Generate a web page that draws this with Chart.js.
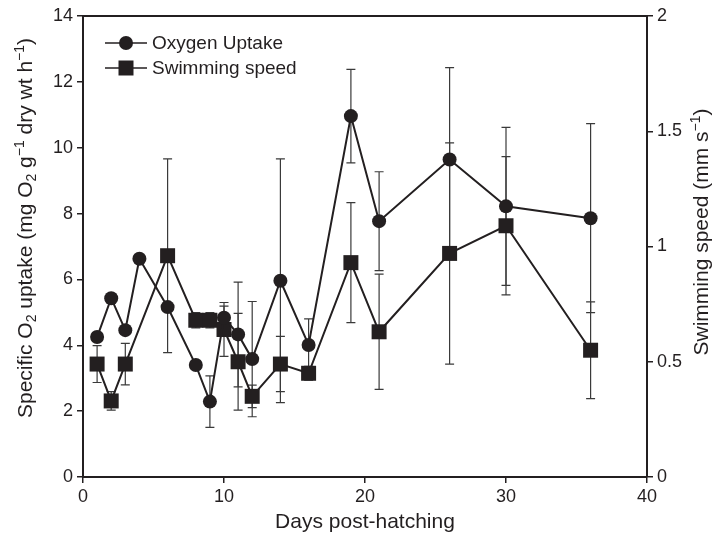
<!DOCTYPE html>
<html>
<head>
<meta charset="utf-8">
<script src="https://cdn.jsdelivr.net/npm/chart.js@4.4.0/dist/chart.umd.min.js"></script>
<style>
  html, body { margin: 0; padding: 0; background: #fff; }
</style>
</head>
<body>
<canvas id="chart" width="723" height="541"></canvas>
<script>
// values
const oxygenDays = [1, 2, 3, 4, 6, 8, 9, 10, 11, 12, 14, 16, 19, 21, 26, 30, 36];
const oxygenUptake = [4.25, 5.43, 4.46, 6.63, 5.16, 3.40, 2.29, 4.84, 4.33, 3.58, 5.96, 4.01, 10.96, 7.77, 9.64, 8.22, 7.86];
const oxygenErr = [0.1, 0.1, 0.1, 0.1, 0.1, 0.1, 0.78, 0.35, 1.59, 1.75, 3.7, 0.79, 1.42, 1.5, 2.79, 2.4, 2.87];

const swimDays = [1, 2, 3, 6, 8, 9, 10, 11, 12, 14, 16, 19, 21, 26, 30, 36];
const swimSpeed = [0.49, 0.33, 0.49, 0.96, 0.68, 0.68, 0.64, 0.50, 0.35, 0.49, 0.45, 0.93, 0.63, 0.97, 1.09, 0.55];
const swimErr = [0.08, 0.04, 0.09, 0.42, 0.033, 0.033, 0.117, 0.21, 0.049, 0.12, 0.03, 0.26, 0.25, 0.48, 0.30, 0.21];

const xTicks = [0, 10, 20, 30, 40];
const leftTicks = [0, 2, 4, 6, 8, 10, 12, 14];
const rightTicks = [0, 0.5, 1, 1.5, 2];

const ink = '#231f20';
const FONT = '"Liberation Sans", Arial, Helvetica, sans-serif';

function toPoints(xs, ys) {
  return xs.map((x, i) => ({ x: x, y: ys[i] }));
}

function setTicks(values) {
  return (scale) => { scale.ticks = values.map(v => ({ value: v })); };
}

// draws text with sub/superscript pieces, centred on (cx, cy)
function drawRich(ctx, parts, cx, cy, rot, size) {
  const small = Math.round(size * 0.68);
  ctx.save();
  ctx.translate(cx, cy);
  ctx.rotate(rot);
  ctx.fillStyle = ink;
  ctx.textBaseline = 'alphabetic';
  const widths = parts.map(([t, k]) => {
    ctx.font = (k ? small : size) + 'px ' + FONT;
    return ctx.measureText(t).width;
  });
  const total = widths.reduce((a, b) => a + b, 0);
  let x = -total / 2;
  const base = size * 0.36;
  parts.forEach(([t, k], i) => {
    ctx.font = (k ? small : size) + 'px ' + FONT;
    let dy = base;
    if (k === 1) dy += size * 0.22;
    if (k === 2) dy -= size * 0.38;
    ctx.fillText(t, x, dy);
    x += widths[i];
  });
  ctx.restore();
}

const errorBars = {
  id: 'errorBars',
  beforeDatasetsDraw(chart) {
    const ctx = chart.ctx;
    const xs = chart.scales.x;
    ctx.save();
    ctx.strokeStyle = '#3a3a3a';
    ctx.lineWidth = 1.2;
    chart.data.datasets.forEach((ds) => {
      const ys = chart.scales[ds.yAxisID];
      ds.data.forEach((p, j) => {
        const e = ds.errors[j];
        const px = xs.getPixelForValue(p.x);
        const top = ys.getPixelForValue(p.y + e);
        const bot = ys.getPixelForValue(p.y - e);
        ctx.beginPath();
        ctx.moveTo(px, top); ctx.lineTo(px, bot);
        ctx.moveTo(px - 4.5, top); ctx.lineTo(px + 4.5, top);
        ctx.moveTo(px - 4.5, bot); ctx.lineTo(px + 4.5, bot);
        ctx.stroke();
      });
    });
    ctx.restore();
  },
  afterDraw(chart) {
    const ctx = chart.ctx;
    const a = chart.chartArea;
    // legend
    ctx.save();
    ctx.strokeStyle = ink;
    ctx.fillStyle = ink;
    ctx.lineWidth = 1.5;
    const rows = [['Oxygen Uptake', 'circle', a.top + 27], ['Swimming speed', 'rect', a.top + 52]];
    rows.forEach(([label, shape, y]) => {
      ctx.beginPath();
      ctx.moveTo(a.left + 22, y); ctx.lineTo(a.left + 64, y);
      ctx.stroke();
      ctx.beginPath();
      if (shape === 'circle') ctx.arc(a.left + 43, y, 7, 0, Math.PI * 2);
      else ctx.rect(a.left + 35.5, y - 7.5, 15, 15);
      ctx.fill();
      ctx.font = '19px ' + FONT;
      ctx.textBaseline = 'middle';
      ctx.fillText(label, a.left + 69, y + 1);
    });
    ctx.restore();

    // axis titles with sub/superscripts
    drawRich(ctx, [['Specific O', 0], ['2', 1], [' uptake (mg O', 0], ['2', 1], [' g', 0], ['\u22121', 2],
      [' dry wt h', 0], ['\u22121', 2], [')', 0]], 24, 228, -Math.PI / 2, 21);
    drawRich(ctx, [['Swimming speed (mm s', 0], ['\u22121', 2], [')', 0]], 700, 232, -Math.PI / 2, 21);
  }
};

const tickFont = { family: FONT, size: 18 };

new Chart(document.getElementById('chart'), {
  type: 'line',
  data: {
    datasets: [
      {
        label: 'Oxygen Uptake',
        data: toPoints(oxygenDays, oxygenUptake),
        errors: oxygenErr,
        yAxisID: 'y',
        borderColor: ink,
        backgroundColor: ink,
        borderWidth: 2,
        pointStyle: 'circle',
        pointRadius: 7,
        pointBorderWidth: 0,
        tension: 0
      },
      {
        label: 'Swimming speed',
        data: toPoints(swimDays, swimSpeed),
        errors: swimErr,
        yAxisID: 'y2',
        borderColor: ink,
        backgroundColor: ink,
        borderWidth: 2,
        pointStyle: 'rect',
        pointRadius: 10.6,
        pointBorderWidth: 0,
        tension: 0
      }
    ]
  },
  options: {
    responsive: false,
    animation: false,
    layout: { padding: 0 },
    plugins: { legend: { display: false }, tooltip: { enabled: false } },
    scales: {
      x: {
        type: 'linear', position: 'bottom', min: 0, max: 40,
        afterBuildTicks: setTicks(xTicks),
        afterFit(s) { s.height = 64; },
        ticks: { font: tickFont, color: ink, padding: 3 },
        grid: { display: true, drawOnChartArea: false, drawTicks: true, tickLength: 6, color: ink, lineWidth: 1.5 },
        border: { display: true, color: ink, width: 2 },
        title: { display: true, text: 'Days post-hatching', color: ink, font: { family: FONT, size: 21 }, padding: { top: 0, bottom: 6 } }
      },
      xTop: {
        type: 'linear', position: 'top', min: 0, max: 40,
        afterFit(s) { s.height = 16; },
        ticks: { display: false },
        grid: { display: false },
        border: { display: true, color: ink, width: 2 }
      },
      y: {
        type: 'linear', position: 'left', min: 0, max: 14,
        afterBuildTicks: setTicks(leftTicks),
        afterFit(s) { s.width = 83; },
        ticks: { font: tickFont, color: ink, padding: 4 },
        grid: { display: true, drawOnChartArea: false, drawTicks: true, tickLength: 6, color: ink, lineWidth: 1.5 },
        border: { display: true, color: ink, width: 2 }
      },
      y2: {
        type: 'linear', position: 'right', min: 0, max: 2,
        afterBuildTicks: setTicks(rightTicks),
        afterFit(s) { s.width = 76; },
        ticks: { font: tickFont, color: ink, padding: 4, callback: v => String(v) },
        grid: { display: true, drawOnChartArea: false, drawTicks: true, tickLength: 6, color: ink, lineWidth: 1.5 },
        border: { display: true, color: ink, width: 2 }
      }
    }
  },
  plugins: [errorBars]
});
</script>
</body>
</html>
